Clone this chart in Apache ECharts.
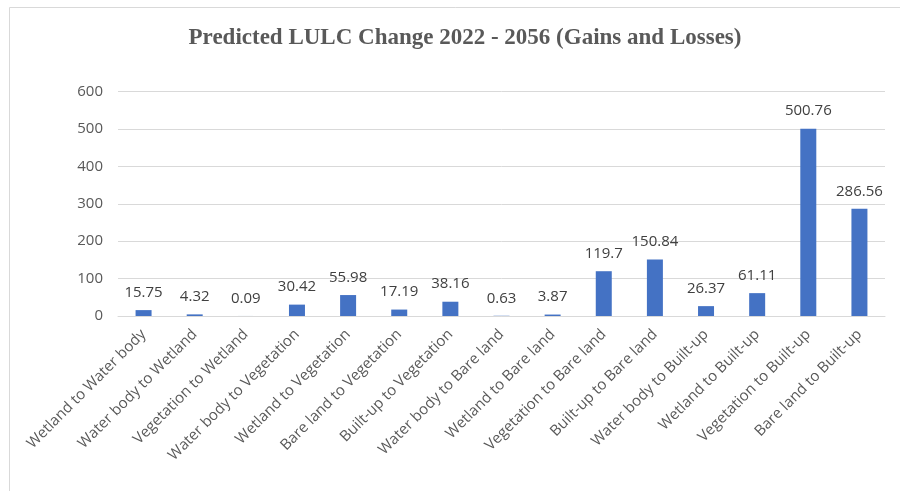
<!DOCTYPE html>
<html>
<head>
<meta charset="utf-8">
<script src="https://cdn.jsdelivr.net/npm/echarts@6/dist/echarts.min.js"></script>
<style>
  html, body { margin: 0; padding: 0; background: #ffffff; }
  #chart { width: 900px; height: 491px; }
</style>
</head>
<body>
<div id="chart"></div>
<script>
// Land-use transitions between 2022 and 2056
const categories = [
  'Wetland to Water body', 'Water body to Wetland', 'Vegetation to Wetland',
  'Water body to Vegetation', 'Wetland to Vegetation', 'Bare land to Vegetation',
  'Built-up to Vegetation', 'Water body to Bare land', 'Wetland to Bare land',
  'Vegetation to Bare land', 'Built-up to Bare land', 'Water body to Built-up',
  'Wetland to Built-up', 'Vegetation to Built-up', 'Bare land to Built-up'
];
// Changed area for each transition
const changeValues = [
  15.75, 4.32, 0.09, 30.42, 55.98, 17.19, 38.16, 0.63, 3.87,
  119.7, 150.84, 26.37, 61.11, 500.76, 286.56
];
const yTicks = { min: 0, max: 600, interval: 100 };

const chart = echarts.init(document.getElementById('chart'));
const labelFont = '"Open Sans", sans-serif';

chart.setOption({
  animation: false,
  backgroundColor: '#ffffff',
  graphic: [{
    type: 'rect',
    shape: { x: 9.5, y: 7.5, width: 1000, height: 1000 },
    style: { fill: 'none', stroke: '#d9d9d9', lineWidth: 1 },
    silent: true
  }],
  title: {
    text: 'Predicted LULC Change 2022 - 2056 (Gains and Losses)',
    left: 460,
    textAlign: 'center',
    top: 22,
    textStyle: {
      fontFamily: '"Liberation Serif", "Times New Roman", serif',
      fontWeight: 'bold',
      fontSize: 23,
      color: '#595959'
    }
  },
  grid: { left: 118, right: 15, top: 91.5, bottom: 175, containLabel: false },
  xAxis: {
    type: 'category',
    data: categories,
    axisLine: { lineStyle: { color: '#d9d9d9', width: 1 } },
    axisTick: { show: false },
    axisLabel: {
      rotate: 45,
      interval: 0,
      margin: 16,
      color: '#595959',
      fontFamily: labelFont,
      fontSize: 15
    }
  },
  yAxis: {
    type: 'value',
    min: yTicks.min,
    max: yTicks.max,
    interval: yTicks.interval,
    axisLine: { show: false },
    axisTick: { show: false },
    splitLine: { lineStyle: { color: '#d9d9d9', width: 1 } },
    axisLabel: {
      margin: 15,
      color: '#595959',
      fontFamily: labelFont,
      fontSize: 15
    }
  },
  series: [{
    type: 'bar',
    data: changeValues,
    barWidth: 16,
    itemStyle: { color: '#4472c4' },
    label: {
      show: true,
      position: 'top',
      distance: 10,
      color: '#404040',
      fontFamily: labelFont,
      fontSize: 15
    }
  }]
});
</script>
</body>
</html>
